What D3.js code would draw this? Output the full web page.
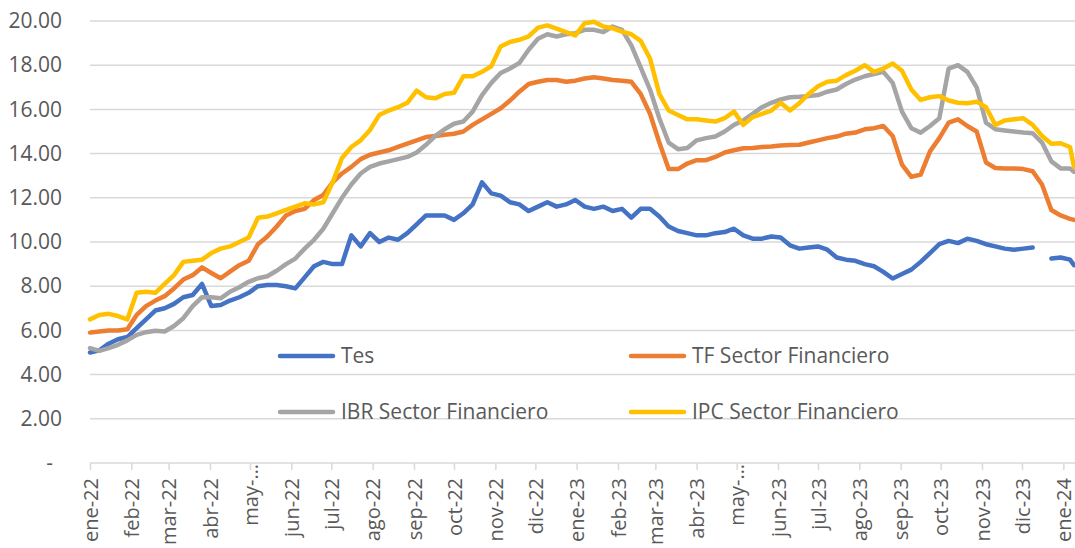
<!DOCTYPE html>
<html>
<head>
<meta charset="utf-8">
<title>Tasas</title>
<style>
body { margin: 0; background: #fff; }
#chart { display: block; }
svg text { font-family: 'Open Sans', sans-serif; fill: #595959; }
.grid line { stroke: #d9d9d9; stroke-width: 1.5; }
.serie { fill: none; stroke-width: 4.5; stroke-linejoin: round; stroke-linecap: round; }
</style>
</head>
<body>
<svg id="chart" width="1075" height="548"></svg>
<script src="https://cdn.jsdelivr.net/npm/d3@7"></script>
<script>
// weekly observations, 1 jan 2022 .. 9 jan 2024
const dates = d3.timeDay.range(new Date(2022, 0, 1), new Date(2024, 0, 7), 7)
  .concat([new Date(2024, 0, 9)]);

const tes = [5.0,5.1,5.4,5.6,5.7,6.1,6.5,6.9,7.0,7.2, 7.5,7.6,8.1,7.1,7.15,7.35,7.5,7.7,8.0,8.05,
  8.05,8.0,7.9,8.4,8.9,9.1,9.0,9.0,10.3,9.8, 10.4,10.0,10.2,10.1,10.4,10.8,11.2,11.2,11.2,11.0,
  11.3,11.7,12.7,12.2,12.1,11.8,11.7,11.4,11.6,11.8, 11.6,11.7,11.9,11.6,11.5,11.6,11.4,11.5,11.1,11.5,
  11.5,11.15,10.7,10.5,10.4,10.3,10.3,10.4,10.45,10.6, 10.3,10.15,10.15,10.25,10.2,9.85,9.7,9.75,9.8,9.65,
  9.3,9.2,9.15,9.0,8.9,8.65,8.35,8.55,8.75,9.1, 9.5,9.9,10.05,9.95,10.15,10.05,9.9,9.8,9.7,9.65,
  9.7,9.75,null,9.25,9.3,9.2,8.95];

const tf = [5.9,5.95,6.0,6.0,6.05,6.7,7.1,7.35,7.55,7.9, 8.3,8.5,8.85,8.6,8.36,8.66,8.95,9.15,9.9,10.25,
  10.7,11.2,11.4,11.5,11.9,12.13,12.7,13.1,13.4,13.75, 13.95,14.05,14.15,14.3,14.45,14.6,14.75,14.8,14.85,14.9,
  15.0,15.3,15.55,15.8,16.05,16.4,16.8,17.15,17.25,17.33, 17.33,17.25,17.3,17.4,17.45,17.4,17.33,17.3,17.25,16.7,
  15.8,14.5,13.3,13.3,13.55,13.7,13.7,13.85,14.05,14.15, 14.24,14.25,14.3,14.32,14.37,14.39,14.4,14.5,14.6,14.7,
  14.77,14.9,14.95,15.1,15.15,15.25,14.8,13.5,12.95,13.05, 14.1,14.7,15.4,15.55,15.25,15.0,13.6,13.35,13.33,13.33,
  13.3,13.2,12.6,11.45,11.2,11.05,11.0];

const ibr = [5.2,5.07,5.2,5.35,5.55,5.8,5.92,5.98,5.95,6.2, 6.55,7.1,7.5,7.5,7.45,7.75,7.95,8.2,8.36,8.45,
  8.7,9.0,9.25,9.7,10.1,10.6,11.3,12.0,12.6,13.1, 13.4,13.55,13.65,13.75,13.85,14.05,14.4,14.8,15.1,15.35,
  15.45,15.9,16.65,17.2,17.65,17.85,18.1,18.7,19.2,19.4, 19.3,19.4,19.45,19.6,19.6,19.5,19.75,19.6,18.9,17.9,
  16.9,15.6,14.5,14.2,14.25,14.6,14.7,14.77,15.0,15.3, 15.5,15.8,16.1,16.3,16.45,16.55,16.57,16.6,16.65,16.8,
  16.9,17.15,17.35,17.5,17.6,17.7,17.2,15.9,15.15,14.95, 15.25,15.6,17.85,18.0,17.7,17.0,15.4,15.1,15.05,15.0,
  14.95,14.92,14.5,13.65,13.33,13.33,13.18];

const ipc = [6.5,6.7,6.75,6.65,6.5,7.7,7.75,7.7,8.1,8.5, 9.1,9.15,9.2,9.5,9.7,9.8,10.0,10.2,11.1,11.15,
  11.3,11.45,11.6,11.75,11.7,11.8,12.7,13.8,14.3,14.6, 15.07,15.75,15.95,16.1,16.3,16.85,16.55,16.5,16.7,16.75,
  17.5,17.5,17.7,17.95,18.85,19.05,19.15,19.3,19.7,19.8, 19.65,19.5,19.35,19.9,19.97,19.75,19.67,19.52,19.4,19.1,
  18.3,16.7,15.95,15.75,15.55,15.55,15.5,15.45,15.6,15.9, 15.3,15.65,15.8,15.95,16.3,15.95,16.28,16.7,17.05,17.25,
  17.3,17.55,17.75,18.0,17.7,17.85,18.08,17.75,16.9,16.43, 16.55,16.6,16.4,16.3,16.28,16.35,16.1,15.3,15.5,15.55,
  15.6,15.3,14.8,14.45,14.47,14.3,13.4];

const seriesNames = ['Tes', 'TF Sector Financiero', 'IBR Sector Financiero', 'IPC Sector Financiero'];
const seriesColors = ['#4472c4', '#ed7d31', '#a5a5a5', '#ffc000'];
const seriesValues = [tes, tf, ibr, ipc];

const monthNames = ['ene', 'feb', 'mar', 'abr', 'may', 'jun', 'jul', 'ago', 'sep', 'oct', 'nov', 'dic'];
const yTicks = [0, 2, 4, 6, 8, 10, 12, 14, 16, 18, 20];

const svg = d3.select('#chart');
const plotLeft = 90, plotRight = 1074, plotTop = 21, plotBottom = 463;

const x = d3.scaleTime()
  .domain([new Date(2022, 0, 1), new Date(2024, 0, 9)])
  .range([plotLeft, plotRight]);
const y = d3.scaleLinear().domain([0, 20]).range([plotBottom, plotTop]);

// gridlines
svg.append('g')
  .attr('class', 'grid')
  .selectAll('line')
  .data(yTicks.filter(d => d > 0))
  .join('line')
  .attr('x1', plotLeft).attr('x2', 1075)
  .attr('y1', d => y(d)).attr('y2', d => y(d));

// y axis labels
const yAxis = svg.append('g')
  .attr('transform', `translate(${plotLeft - 28},0)`)
  .call(d3.axisLeft(y).tickValues(yTicks).tickSize(0)
    .tickFormat(d => d === 0 ? '-' : d3.format('.2f')(d)));
yAxis.attr('font-family', null);
yAxis.select('.domain').remove();
yAxis.selectAll('text')
  .attr('x', d => d === 0 ? -9 : 0)
  .attr('font-size', 21)
  .style('fill', '#595959');

// x axis
const months = d3.timeMonth.range(new Date(2022, 0, 1), new Date(2024, 0, 2));
const xAxis = svg.append('g')
  .attr('transform', `translate(0,${plotBottom})`)
  .call(d3.axisBottom(x).tickValues(months).tickSizeOuter(0).tickSize(7)
    .tickFormat(d => monthNames[d.getMonth()] + '-' +
      (d.getMonth() === 4 ? '\u2026' : d3.timeFormat('%y')(d))));
xAxis.attr('font-family', null);
xAxis.select('.domain').attr('stroke', '#d9d9d9').attr('stroke-width', 1.5)
  .attr('d', `M${plotLeft},0H1075`);
xAxis.selectAll('.tick line').attr('stroke', '#d9d9d9').attr('stroke-width', 1.5);
xAxis.selectAll('text')
  .attr('font-size', 20)
  .style('fill', '#595959')
  .attr('text-anchor', 'end')
  .attr('transform', 'rotate(-90)')
  .attr('y', 0)
  .attr('dy', '0.35em')
  .attr('x', d => d.getMonth() === 4 ? -1 : -15);

// series lines, first series drawn first
const line = d3.line()
  .defined(d => d[1] !== null)
  .x(d => x(d[0]))
  .y(d => y(d[1]));

seriesValues.forEach((vals, i) => {
  svg.append('path')
    .attr('class', 'serie')
    .attr('stroke', seriesColors[i])
    .attr('d', line(dates.map((dt, j) => [dt, vals[j]])));
});

// legend, two rows x two columns
const legendPos = [[280, 356], [631, 356], [280, 412], [631, 412]];
const legend = svg.append('g');
seriesNames.forEach((name, i) => {
  const [lx, ly] = legendPos[i];
  legend.append('line')
    .attr('x1', lx).attr('x2', lx + 53)
    .attr('y1', ly).attr('y2', ly)
    .attr('stroke', seriesColors[i])
    .attr('stroke-width', 4.5)
    .attr('stroke-linecap', 'round');
  legend.append('text')
    .attr('x', lx + 61).attr('y', ly)
    .attr('dy', '0.35em')
    .attr('font-size', 21)
    .text(name);
});
</script>
</body>
</html>
